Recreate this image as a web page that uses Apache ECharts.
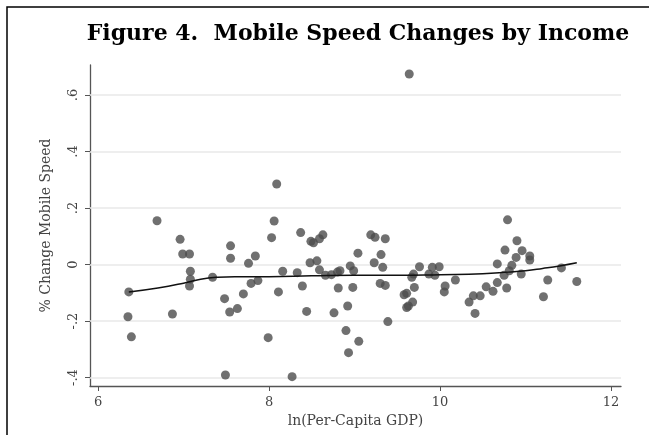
<!DOCTYPE html>
<html>
<head>
<meta charset="utf-8">
<script src="https://cdn.jsdelivr.net/npm/echarts@6/dist/echarts.min.js"></script>
<style>
html,body{margin:0;padding:0;background:#fff;}
#chart{width:649px;height:435px;}
</style>
</head>
<body>
<div id="chart"></div>
<script>
// ln(per-capita GDP)
const gdpLog = [6.36,6.35,6.39,6.69,6.87,6.96,6.99,7.07,7.08,7.08,7.07,7.34,7.48,7.54,7.55,7.55,7.49,7.63,7.70,7.76,7.79,7.84,7.87,7.99,8.03,8.06,8.09,8.11,8.16,8.27,8.33,8.37,8.39,8.44,8.48,8.49,8.52,8.56,8.59,8.59,8.63,8.66,8.73,8.76,8.80,8.81,8.83,8.90,8.92,8.93,8.95,8.98,8.99,9.04,9.05,9.19,9.23,9.24,9.30,9.31,9.33,9.36,9.36,9.39,9.58,9.61,9.61,9.63,9.64,9.67,9.68,9.69,9.70,9.76,9.87,9.91,9.94,9.99,10.05,10.06,10.18,10.34,10.39,10.41,10.47,10.54,10.62,10.67,10.67,10.75,10.76,10.78,10.79,10.81,10.84,10.89,10.90,10.95,10.96,11.05,11.05,11.21,11.26,11.42,11.60];
// % change in mobile speed
const speedChange = [-0.097,-0.185,-0.256,0.155,-0.175,0.089,0.037,0.037,-0.024,-0.052,-0.076,-0.045,-0.121,-0.168,0.066,0.022,-0.391,-0.156,-0.104,0.004,-0.067,0.030,-0.057,-0.259,0.095,0.154,0.285,-0.097,-0.024,-0.397,-0.029,0.113,-0.076,-0.166,0.006,0.082,0.077,0.013,0.091,-0.019,0.105,-0.038,-0.036,-0.171,-0.027,-0.083,-0.022,-0.234,-0.147,-0.312,-0.005,-0.081,-0.022,0.040,-0.272,0.105,0.006,0.096,-0.067,0.035,-0.010,0.091,-0.074,-0.202,-0.107,-0.102,-0.152,-0.147,0.674,-0.045,-0.133,-0.034,-0.081,-0.008,-0.034,-0.010,-0.038,-0.008,-0.097,-0.076,-0.055,-0.133,-0.111,-0.173,-0.111,-0.079,-0.095,-0.064,0.002,-0.038,0.051,-0.083,0.158,-0.022,-0.003,0.025,0.084,-0.034,0.049,0.030,0.016,-0.114,-0.055,-0.012,-0.060];
// lowess smoother
const smoothX = [6.36,6.7,7.0,7.2,7.4,7.6,8.0,8.5,9.0,9.5,10.0,10.5,10.8,11.0,11.2,11.4,11.6];
const smoothY = [-0.097,-0.083,-0.066,-0.052,-0.045,-0.043,-0.043,-0.040,-0.038,-0.038,-0.036,-0.033,-0.027,-0.022,-0.014,-0.005,0.006];
const xTicks = [6,8,10,12];
const yTicks = [-0.4,-0.2,0,0.2,0.4,0.6];

const serif = '"DejaVu Serif", "Liberation Serif", serif';
const chart = echarts.init(document.getElementById('chart'), null, {renderer:'canvas'});
const fmtY = v => { const r = Math.round(v*10)/10; if (r === 0) return '0'; return (r<0?'-':'') + Math.abs(r).toFixed(1).replace(/^0/,''); };

chart.setOption({
  backgroundColor:'#ffffff',
  animation:false,
  graphic:[
    {type:'rect', shape:{x:7,y:7,width:700,height:500}, style:{fill:'none', stroke:'#000', lineWidth:1.5}, silent:true},
    {type:'text', x:358, y:34, style:{text:'Figure 4.  Mobile Speed Changes by Income', font:'bold 22px ' + serif, fill:'#000', textAlign:'center', textVerticalAlign:'middle'}}
  ],
  grid:{left:90, right:28, top:65, bottom:49},
  xAxis:{
    type:'value', min:5.906, max:12.117,
    name:'ln(Per-Capita GDP)', nameLocation:'middle', nameGap:27,
    nameTextStyle:{fontFamily:serif, fontSize:14, color:'#444'},
    axisLine:{show:true, onZero:false, lineStyle:{color:'#555', width:1.3}},
    axisTick:{show:true, customValues:xTicks, length:5, lineStyle:{color:'#555'}},
    axisLabel:{customValues:xTicks, formatter:v=>String(v), fontFamily:serif, fontSize:13, color:'#444', margin:10},
    splitLine:{show:false}
  },
  yAxis:{
    type:'value', min:-0.43, max:0.706,
    name:'% Change Mobile Speed', nameLocation:'middle', nameGap:37,
    nameTextStyle:{fontFamily:serif, fontSize:14, color:'#444'},
    axisLine:{show:true, onZero:false, lineStyle:{color:'#555', width:1.3}},
    axisTick:{show:true, customValues:yTicks, length:5, lineStyle:{color:'#555'}},
    axisLabel:{customValues:yTicks, formatter:fmtY, rotate:90, fontFamily:serif, fontSize:13, color:'#444', margin:10},
    splitLine:{show:false}
  },
  series:[
    {
      type:'scatter', z:3,
      data: gdpLog.map((x,i)=>[x, speedChange[i]]),
      symbolSize:9,
      itemStyle:{color:'#4c4c4c'},
      markLine:{
        z:1, silent:true, symbol:'none', label:{show:false},
        lineStyle:{color:'#e8e8e8', width:1.5, type:'solid'},
        data: yTicks.map(v=>({yAxis:v}))
      }
    },
    {
      type:'line', z:4, smooth:true, showSymbol:false,
      data: smoothX.map((x,i)=>[x, smoothY[i]]),
      lineStyle:{color:'#111', width:1.5},
      itemStyle:{color:'#111'}
    }
  ]
});
</script>
</body>
</html>
